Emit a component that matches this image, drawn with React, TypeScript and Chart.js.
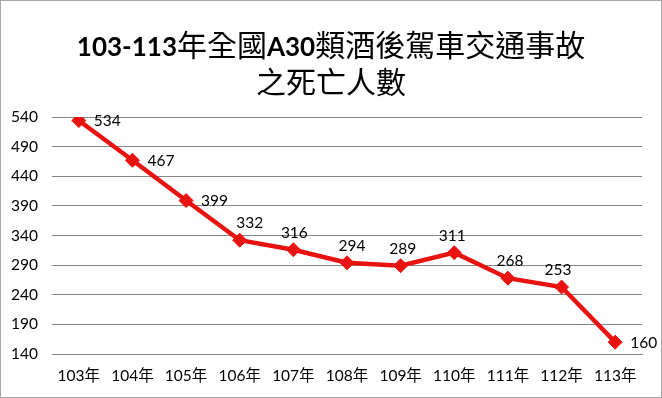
import React, { useEffect, useRef } from "react";
import { Chart, registerables } from "chart.js";

Chart.register(...registerables);

const categories = ["103年", "104年", "105年", "106年", "107年", "108年", "109年", "110年", "111年", "112年", "113年"];
const deaths = [534, 467, 399, 332, 316, 294, 289, 311, 268, 253, 160];
const yMin = 140;
const yMax = 540;
const yStep = 50;

// label placement config (style, not data)
const labelPlacement = ["right", "right", "right", "top", "top", "top", "top", "top", "top", "top", "right"];
const labelNudgeX = [0, 0, 0, 10, 1, 5, 2, -2, 2, -3.5, 0];

const LABEL_FONT = "15.5px Lato, 'Noto Sans CJK TC', sans-serif";

const dataLabelPlugin = {
  id: "valueLabels",
  afterDatasetsDraw(chart: any) {
    const ctx = chart.ctx;
    const meta = chart.getDatasetMeta(0);
    const values = chart.data.datasets[0].data;
    ctx.save();
    ctx.font = LABEL_FONT;
    ctx.fillStyle = "#000000";
    ctx.textBaseline = "middle";
    meta.data.forEach((pt: any, i: number) => {
      const text = String(values[i]);
      if (labelPlacement[i] === "right") {
        ctx.textAlign = "left";
        ctx.fillText(text, pt.x + 15, pt.y + 0.5);
      } else {
        ctx.textAlign = "center";
        ctx.fillText(text, pt.x + labelNudgeX[i], pt.y - 17);
      }
    });
    ctx.restore();
  },
};

export default function App() {
  const canvasRef = useRef<HTMLCanvasElement | null>(null);

  useEffect(() => {
    document.body.style.margin = "0";
    const canvas = canvasRef.current;
    if (!canvas) return;
    const chart = new Chart(canvas, {
      type: "line",
      data: {
        labels: categories,
        datasets: [
          {
            data: deaths,
            borderColor: "#e8120e",
            backgroundColor: "#e8120e",
            borderWidth: 4.5,
            pointStyle: "rectRot",
            pointRadius: 7,
            pointBorderWidth: 1,
            pointBackgroundColor: "#e8120e",
            pointBorderColor: "#e8120e",
            tension: 0,
            fill: false,
          },
        ],
      },
      options: {
        responsive: false,
        animation: false,
        devicePixelRatio: 1,
        layout: { padding: { top: 116, left: 0, right: 19, bottom: 13 } },
        plugins: {
          legend: { display: false },
          title: { display: false },
          tooltip: { enabled: false },
        },
        scales: {
          x: {
            offset: true,
            grid: { display: false, drawTicks: false },
            border: { display: true, color: "#878787", width: 1 },
            ticks: {
              color: "#000000",
              font: { family: "Lato, 'Noto Sans CJK TC', sans-serif", size: 15.5 },
              padding: 13,
              maxRotation: 0,
              autoSkip: false,
            },
            afterFit(scale: any) {
              scale.height = 30;
            },
          },
          y: {
            min: yMin,
            max: yMax,
            grid: { color: "#878787", lineWidth: 1, drawTicks: false },
            border: { display: false },
            ticks: {
              stepSize: yStep,
              color: "#000000",
              font: { family: "Lato, 'Noto Sans CJK TC', sans-serif", size: 15.5 },
              padding: 14,
            },
            afterFit(scale: any) {
              scale.width = 51;
            },
          },
        },
      },
      plugins: [dataLabelPlugin],
    });
    return () => chart.destroy();
  }, []);

  const latin: React.CSSProperties = { fontFamily: "Lato, sans-serif", fontWeight: 700, fontSize: 26 };
  const cjk: React.CSSProperties = { fontFamily: "'Noto Sans CJK TC', sans-serif", fontWeight: 400, fontSize: 30 };
  const lineStyle: React.CSSProperties = {
    position: "absolute",
    left: 0,
    width: 660,
    height: 40,
    lineHeight: "40px",
    textAlign: "center",
    color: "#000000",
    whiteSpace: "nowrap",
    fontFamily: "Lato, 'Noto Sans CJK TC', sans-serif",
  };

  return (
    <div
      style={{
        position: "relative",
        width: 662,
        height: 398,
        boxSizing: "border-box",
        border: "1px solid #a6a6a6",
        background: "#ffffff",
        overflow: "hidden",
      }}
    >
      <canvas
        ref={canvasRef}
        width={660}
        height={396}
        style={{ position: "absolute", left: 0, top: 0, width: 660, height: 396 }}
      />
      <div style={{ ...lineStyle, top: 22 }}>
        <span style={latin}>103-113</span>
        <span style={cjk}>年全國</span>
        <span style={latin}>A30</span>
        <span style={cjk}>類酒後駕車交通事故</span>
      </div>
      <div style={{ ...lineStyle, top: 59 }}>
        <span style={cjk}>之死亡人數</span>
      </div>
    </div>
  );
}
